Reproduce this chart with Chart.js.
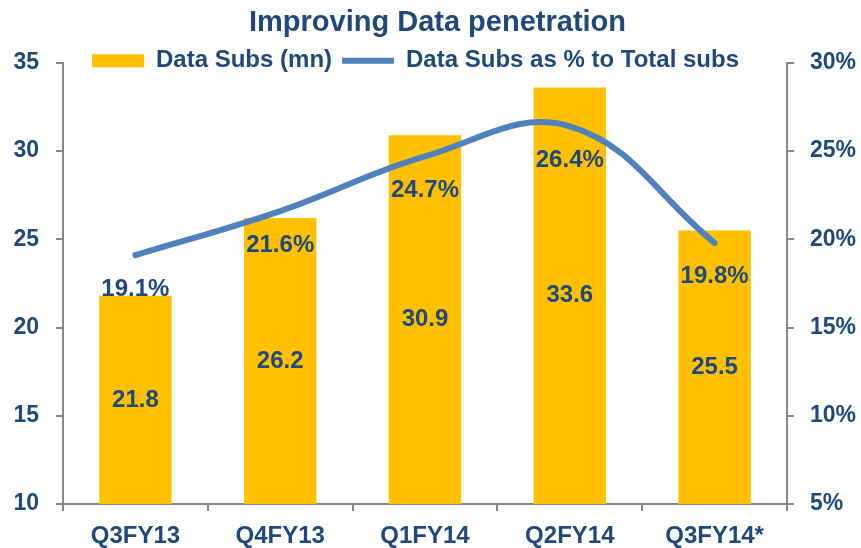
<!DOCTYPE html>
<html>
<head>
<meta charset="utf-8">
<script src="https://cdn.jsdelivr.net/npm/chart.js@4/dist/chart.umd.min.js"></script>
<style>
  html, body { margin: 0; padding: 0; background: #fff; }
  #wrap { width: 861px; height: 548px; }
</style>
</head>
<body>
<div id="wrap"><canvas id="grafico" width="861" height="548"></canvas></div>
<script>
// Datos del gráfico
const trimestres = ["Q3FY13", "Q4FY13", "Q1FY14", "Q2FY14", "Q3FY14*"];
const subsDatos = [21.8, 26.2, 30.9, 33.6, 25.5];
const pctTotal = [19.1, 21.6, 24.7, 26.4, 19.8];
const ticksIzq = [10, 15, 20, 25, 30, 35];
const ticksDer = [5, 10, 15, 20, 25, 30];

const azulTexto = "#1F497D";
const gris = "#868686";
const fuente = "'Liberation Sans', Arial, sans-serif";

// Etiquetas de datos (barras al centro, línea debajo del punto)
const etiquetas = {
  id: "etiquetas",
  afterLayout(chart) {
    // centrar título y leyenda como en el original
    chart.titleBlock.left += 7;
    chart.titleBlock.right += 7;
    chart.legend.left -= 15;
    chart.legend.right -= 15;
    // que la leyenda no recorte el texto
    chart.legend.bottom += 14;
    chart.legend.height += 14;
  },
  afterDatasetsDraw(chart) {
    const ctx = chart.ctx;
    const fondo = chart.chartArea.bottom;
    ctx.save();
    ctx.fillStyle = azulTexto;
    ctx.font = "bold 24px " + fuente;
    ctx.textAlign = "center";
    ctx.textBaseline = "middle";
    chart.getDatasetMeta(0).data.forEach((bar, i) => {
      ctx.fillText(subsDatos[i].toFixed(1), bar.x, (bar.y + Math.min(bar.base, fondo)) / 2);
    });
    chart.getDatasetMeta(1).data.forEach((pt, i) => {
      ctx.fillText(pctTotal[i].toFixed(1) + "%", pt.x, pt.y + 34);
    });
    ctx.restore();
  }
};

new Chart(document.getElementById("grafico"), {
  type: "bar",
  data: {
    labels: trimestres,
    datasets: [
      {
        label: "Data Subs (mn)",
        data: subsDatos,
        backgroundColor: "#FFC000",
        borderWidth: 0,
        barPercentage: 0.5,
        categoryPercentage: 1,
        pointStyle: "rect",
        yAxisID: "y",
        order: 2
      },
      {
        type: "line",
        label: "Data Subs as % to Total subs",
        data: pctTotal,
        borderColor: "#4F81BD",
        backgroundColor: "#4F81BD",
        borderWidth: 6,
        borderCapStyle: "round",
        tension: 0.4,
        pointRadius: 0,
        pointStyle: "line",
        yAxisID: "y2",
        order: 1
      }
    ]
  },
  options: {
    responsive: false,
    animation: false,
    layout: { padding: 0 },
    plugins: {
      tooltip: { enabled: false },
      title: {
        display: true,
        text: "Improving Data penetration",
        color: azulTexto,
        font: { family: fuente, size: 29, weight: "bold" },
        padding: { top: 6, bottom: -2 }
      },
      legend: {
        position: "top",
        maxHeight: 24,
        labels: {
          usePointStyle: true,
          pointStyleWidth: 52,
          boxHeight: 13,
          padding: 10,
          color: azulTexto,
          font: { family: fuente, size: 24, weight: "bold" },
          sort: (a, b) => a.datasetIndex - b.datasetIndex
        }
      }
    },
    scales: {
      x: {
        grid: { display: true, drawOnChartArea: false, tickLength: 7, color: gris, lineWidth: 2 },
        border: { color: gris, width: 2 },
        ticks: { color: azulTexto, padding: 11, font: { family: fuente, size: 24, weight: "bold" } },
        afterFit: s => { s.height = 44; }
      },
      y: {
        position: "left",
        min: 10, max: 35,
        afterBuildTicks: s => { s.ticks = ticksIzq.map(v => ({ value: v })); },
        grid: { drawOnChartArea: false, tickLength: 7, color: gris, lineWidth: 2 },
        border: { color: gris, width: 2 },
        ticks: { color: azulTexto, padding: 17, font: { family: fuente, size: 23, weight: "bold" } },
        afterFit: s => { s.width = 63; }
      },
      y2: {
        position: "right",
        min: 5, max: 30,
        afterBuildTicks: s => { s.ticks = ticksDer.map(v => ({ value: v })); },
        grid: { drawOnChartArea: false, tickLength: 7, color: gris, lineWidth: 2 },
        border: { color: gris, width: 2 },
        ticks: {
          color: azulTexto, padding: 16,
          font: { family: fuente, size: 23, weight: "bold" },
          callback: v => v + "%"
        },
        afterFit: s => { s.width = 74; }
      }
    }
  },
  plugins: [etiquetas]
});
</script>
</body>
</html>
